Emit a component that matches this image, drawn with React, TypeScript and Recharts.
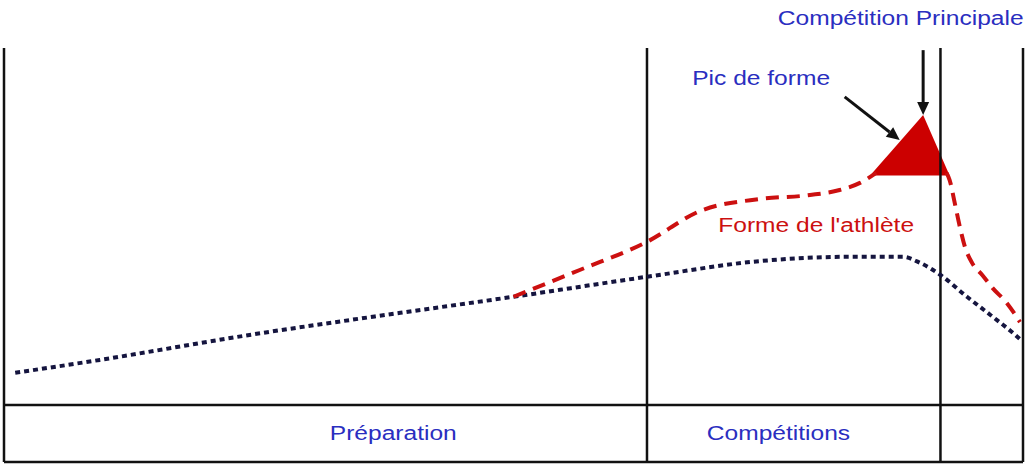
import {
  ComposedChart,
  Line,
  Area,
  XAxis,
  YAxis,
  ReferenceLine,
  ReferenceDot,
} from 'recharts';

// x = time through the season (0-100), y = fitness level
const BASE_X = [1.1, 9.4, 24.1, 38.9, 50.0, 63.1, 74.2, 83.0, 88.2, 89.9, 91.9, 94.5, 96.8, 99.0, 99.9];
const BASE_Y = [9.0, 12.6, 19.6, 25.8, 30.3, 35.9, 40.3, 41.5, 41.5, 39.8, 36.4, 30.3, 25.2, 20.2, 17.9];

// athlete form, before and after the peak
const RISE_X = [50.0, 56.5, 63.1, 68.3, 74.2, 79.1, 82.0, 84.0, 85.6];
const RISE_Y = [30.3, 37.8, 45.7, 54.3, 57.7, 58.8, 60.2, 62.2, 65.0];
const FALL_X = [92.5, 92.8, 93.3, 93.8, 94.3, 95.0, 96.0, 97.0, 98.4, 99.7];
const FALL_Y = [65.0, 63.0, 56.6, 49.9, 44.3, 39.8, 36.4, 32.8, 28.6, 23.2];

const PEAK_X = [85.0, 90.2, 92.8];
const PEAK_Y = [64.3, 81.2, 64.3];

const PHASE_BOUNDS = [0, 63.1, 91.9, 100];
const PHASE_LABELS = ['Préparation', 'Compétitions'];
const PHASE_LABEL_X = [38.2, 76.0];

const baseline = BASE_X.map((x, i) => ({ x, y: BASE_Y[i] }));
const rise = RISE_X.map((x, i) => ({ x, y: RISE_Y[i] }));
const fall = FALL_X.map((x, i) => ({ x, y: FALL_Y[i] }));
const peak = PEAK_X.map((x, i) => ({ x, y: PEAK_Y[i] }));

const BLUE_TEXT = '#2a2ec0';
const RED = '#cc1010';
const INK = '#111111';
const FONT = '"Liberation Sans", Arial, sans-serif';

const arrowShape = (props: any) => {
  const { x1, y1, x2, y2 } = props;
  const a = Math.atan2(y2 - y1, x2 - x1);
  const L = 13;
  const W = 6;
  const bx = x2 - L * Math.cos(a);
  const by = y2 - L * Math.sin(a);
  const pts = [
    `${x2},${y2}`,
    `${bx + W * Math.sin(a)},${by - W * Math.cos(a)}`,
    `${bx - W * Math.sin(a)},${by + W * Math.cos(a)}`,
  ].join(' ');
  return (
    <g>
      <line x1={x1} y1={y1} x2={bx} y2={by} stroke={INK} strokeWidth={3} />
      <polygon points={pts} fill={INK} />
    </g>
  );
};

// the source lettering is a little wider than Arial, so stretch it sideways
function TextAt({ x, y, text, color }: { x: number; y: number; text: string; color: string }) {
  return (
    <ReferenceDot
      x={x}
      y={y}
      ifOverflow="visible"
      shape={(p: any) => (
        <text
          transform={`translate(${p.cx},${p.cy}) scale(1.17,1)`}
          textAnchor="middle"
          dominantBaseline="central"
          fill={color}
          fontSize={21}
          fontFamily={FONT}
        >
          {text}
        </text>
      )}
    />
  );
}

export default function App() {
  return (
    <div style={{ position: 'absolute', left: 0, top: 0, width: 1030, height: 468, background: '#fff' }}>
      <ComposedChart width={1030} height={468} margin={{ top: 48, right: 7, bottom: 6, left: 4 }}>
        <XAxis type="number" dataKey="x" domain={[0, 100]} hide allowDataOverflow />
        <YAxis type="number" domain={[-16, 100]} hide allowDataOverflow />

        {PHASE_BOUNDS.map((b) => (
          <ReferenceLine key={b} x={b} stroke={INK} strokeWidth={2.5} />
        ))}
        <ReferenceLine y={0} stroke={INK} strokeWidth={2.5} />
        <ReferenceLine y={-16} stroke={INK} strokeWidth={2.5} />

        <Line
          data={baseline}
          dataKey="y"
          type="monotone"
          stroke="#15153f"
          strokeWidth={4}
          strokeDasharray="5 4"
          dot={false}
          isAnimationActive={false}
        />
        <Line
          data={rise}
          dataKey="y"
          type="monotone"
          stroke={RED}
          strokeWidth={4}
          strokeDasharray="13 8"
          dot={false}
          isAnimationActive={false}
        />
        <Line
          data={fall}
          dataKey="y"
          type="monotone"
          stroke={RED}
          strokeWidth={4}
          strokeDasharray="13 8"
          dot={false}
          isAnimationActive={false}
        />
        <Area
          data={peak}
          dataKey="y"
          type="linear"
          baseValue={64.3}
          fill="#cc0000"
          fillOpacity={1}
          stroke="none"
          isAnimationActive={false}
        />

        <ReferenceLine
          segment={[{ x: 90.2, y: 99.4 }, { x: 90.2, y: 81.2 }]}
          ifOverflow="visible"
          shape={arrowShape}
        />
        <ReferenceLine
          segment={[{ x: 82.5, y: 86.3 }, { x: 87.9, y: 74.2 }]}
          ifOverflow="visible"
          shape={arrowShape}
        />

        <TextAt x={88.0} y={108.4} text="Compétition Principale" color={BLUE_TEXT} />
        <TextAt x={74.3} y={91.6} text="Pic de forme" color={BLUE_TEXT} />
        <TextAt x={79.7} y={50.4} text="Forme de l'athlète" color={RED} />
        {PHASE_LABELS.map((t, i) => (
          <TextAt key={t} x={PHASE_LABEL_X[i]} y={-7.8} text={t} color={BLUE_TEXT} />
        ))}
      </ComposedChart>
    </div>
  );
}
